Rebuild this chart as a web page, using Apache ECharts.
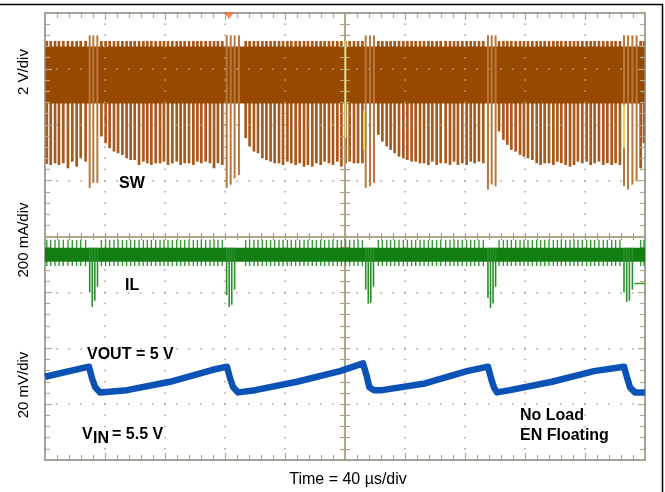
<!DOCTYPE html>
<html><head><meta charset="utf-8">
<script src="https://cdn.jsdelivr.net/npm/echarts@6/dist/echarts.min.js"></script>
<style>html,body{margin:0;padding:0;background:#fff}#c{width:665px;height:492px}</style>
</head><body><div id="c"></div>
<script>
// Time in µs (40 µs/div, 10 div), vertical in screen divisions (0 = centre line, ±4 div)

// SW (2 V/div): switching spikes (time, lowest point in div)
const swT = [1.2,3.8,6.7,9.3,12.2,15.3,18.2,21.1,23.8,27.1,
  37.6,40.4,43.1,46.0,48.7,51.6,54.4,57.1,59.8,62.7,65.6,68.2,70.9,73.8,76.7,79.3,82.0,84.9,87.8,90.4,93.1,96.0,98.9,101.6,104.2,107.1,110.0,112.7,115.3,118.2,
  133.8,136.4,139.3,142.0,144.9,147.6,150.4,153.1,156.0,158.7,161.6,164.2,167.1,169.8,172.7,175.3,178.2,180.9,183.8,186.4,189.3,192.0,194.9,197.6,200.4,203.1,206.0,208.7,211.6,
  222.2,224.9,227.8,230.4,233.1,236.0,238.9,241.6,244.4,247.1,250.0,252.7,255.6,258.2,261.1,263.8,267.1,270.0,272.7,275.3,278.2,281.1,283.8,286.4,289.3,292.2,
  302.7,305.6,308.2,310.9,313.8,316.7,319.3,322.0,324.9,327.8,330.4,333.1,336.0,338.9,341.6,344.2,347.1,350.0,352.7,355.3,358.2,361.1,363.8,366.4,369.3,372.2,374.9,377.8,380.4,383.3,
  397.1,399.3];
const swLow = [1.30,1.28,1.31,1.28,1.31,1.22,1.34,1.25,1.40,1.34,
  1.79,1.67,1.58,1.52,1.49,1.46,1.40,1.37,1.37,1.28,1.34,1.31,1.28,1.31,1.31,1.34,1.28,1.31,1.34,1.28,1.31,1.31,1.28,1.34,1.31,1.34,1.31,1.22,1.31,1.28,
  1.76,1.61,1.52,1.49,1.40,1.37,1.34,1.31,1.31,1.28,1.34,1.31,1.28,1.31,1.25,1.28,1.25,1.31,1.28,1.34,1.31,1.28,1.34,1.25,1.31,1.34,1.31,1.31,1.31,
  1.82,1.70,1.61,1.55,1.49,1.43,1.40,1.37,1.34,1.34,1.31,1.31,1.28,1.34,1.28,1.31,1.31,1.28,1.34,1.28,1.31,1.28,1.34,1.31,1.34,1.31,
  1.88,1.73,1.64,1.55,1.52,1.46,1.43,1.40,1.37,1.31,1.28,1.31,1.31,1.28,1.34,1.31,1.28,1.25,1.28,1.34,1.31,1.34,1.28,1.31,1.34,1.28,1.31,1.28,1.31,1.28,
  1.22,1.67];
const swEventT = [29.8,32.2,34.9, 121.1,123.8,126.4,129.3, 213.8,216.7,219.3, 295.3,297.8,300.4, 386.0,388.7,391.6,394.4];
const swEventLow = [0.87,0.96,0.96, 0.87,0.93,1.04,1.10, 0.87,0.90,0.96, 0.84,0.93,0.90, 0.90,0.84,0.93,0.99];
const swBand = [2.38, 3.40];
const swNoiseTop = 3.50;
const swEventTop = 3.60;

// IL (200 mA/div)
const ilCore = [-0.45, -0.20];
const ilNoise = [-0.53, -0.06];
const ilDipT = [29.8,31.5,33.2,35.0, 121.1,122.8,124.5,126.4, 213.8,215.5,217.2,219.0, 295.3,297.0,298.7,300.4, 386.0,387.8,389.6,391.6];
const ilDipLow = [-1.00,-1.26,-1.15,-0.90, -1.05,-1.26,-1.22,-0.95, -0.95,-1.20,-1.19,-0.90, -1.10,-1.28,-1.20,-0.90, -1.00,-1.17,-1.15,-0.95];
const ilMarker = [[393,-0.84],[400,-0.84]];

// VOUT (20 mV/div)
const vout = [[0,-2.51],[29.3,-2.33],[31.5,-2.55],[33.5,-2.70],[36.7,-2.79],[54.7,-2.75],[83.3,-2.60],[111.3,-2.39],[121.3,-2.33],
  [123.5,-2.55],[125.5,-2.70],[128.7,-2.79],[140,-2.75],[168,-2.60],[196.7,-2.41],[212,-2.27],
  [214.5,-2.50],[216.3,-2.70],[219.3,-2.75],[224.7,-2.75],[253.3,-2.63],[281.3,-2.41],[295.3,-2.33],
  [297.5,-2.55],[299.3,-2.70],[301.3,-2.79],[310,-2.75],[338,-2.60],[366,-2.41],[386,-2.33],
  [388,-2.52],[390,-2.70],[393.3,-2.79],[400,-2.79]];

// faint yellow channel fragments and trigger marker
const yellowSeg = [[200.3,1.76,3.50],[212.7,1.55,2.25],[386.0,1.58,2.36]];
const trigger = [[122.7,3.955]];

const FRAME='#86867f', TICK='#b3aa8b', DOT='#aaa288', CENTER='#aaa285';

function vLine(color, width){
  return function(params, api){
    const t = api.value(0);
    const a = api.coord([t, api.value(1)]);
    const b = api.coord([t, api.value(2)]);
    return {type:'line', shape:{x1:a[0],y1:a[1],x2:b[0],y2:b[1]}, style:{stroke:color,lineWidth:width}};
  };
}
function rectItem(color){
  return function(params, api){
    const a = api.coord([api.value(0), api.value(3)]);
    const b = api.coord([api.value(1), api.value(2)]);
    return {type:'rect', shape:{x:a[0],y:a[1],width:b[0]-a[0],height:b[1]-a[1]}, style:{fill:color}};
  };
}
function edgeX(pos, split){
  return {type:'value', gridIndex:0, position:pos, min:0, max:400, interval:40, z:3,
    axisLine:{show:true,onZero:false,lineStyle:{color:FRAME,width:1.5}},
    axisTick:{show:true,inside:true,length:7,lineStyle:{color:TICK,width:1.2}},
    minorTick:{show:true,splitNumber:5,length:5,lineStyle:{color:TICK,width:1.2}},
    axisLabel:{show:false},
    splitLine:{show:split,lineStyle:{color:DOT,width:1.5,type:[1.5,9.675],dashOffset:0.75}},
    minorSplitLine:{show:false}};
}
function centerX(inside){
  return {type:'value', gridIndex:0, position:'bottom', min:0, max:400, interval:40, z:3,
    axisLine:{show:true,onZero:true,onZeroAxisIndex:0,lineStyle:{color:CENTER,width:1.5}},
    axisTick:{show:true,inside:inside,length:3.5,lineStyle:{color:CENTER,width:1.2}},
    minorTick:{show:true,splitNumber:5,length:3.5,lineStyle:{color:CENTER,width:1.2}},
    axisLabel:{show:false}, splitLine:{show:false}};
}
function edgeY(pos, split){
  return {type:'value', gridIndex:0, position:pos, min:-4, max:4, interval:1, z:3,
    axisLine:{show:true,onZero:false,lineStyle:{color:FRAME,width:1.5}},
    axisTick:{show:true,inside:true,length:7,lineStyle:{color:TICK,width:1.2}},
    minorTick:{show:true,splitNumber:5,length:5,lineStyle:{color:TICK,width:1.2}},
    axisLabel:{show:false},
    splitLine:{show:split,lineStyle:{color:DOT,width:1.5,type:[1.5,10.5],dashOffset:0.75}},
    minorSplitLine:{show:false}};
}
function centerY(inside){
  return {type:'value', gridIndex:0, position:'left', min:-4, max:4, interval:1, z:3,
    axisLine:{show:true,onZero:true,onZeroAxisIndex:4,lineStyle:{color:CENTER,width:1.5}},
    axisTick:{show:true,inside:inside,length:5,lineStyle:{color:CENTER,width:1.2}},
    minorTick:{show:true,splitNumber:5,length:5,lineStyle:{color:CENTER,width:1.2}},
    axisLabel:{show:false}, splitLine:{show:false}};
}

const chart = echarts.init(document.getElementById('c'));
const bold = 'bold 16px "Liberation Sans", Arial, sans-serif';
const reg = '16px "Liberation Sans", Arial, sans-serif';
const axf = '15px "Liberation Sans", Arial, sans-serif';
chart.setOption({
  animation:false,
  backgroundColor:'#ffffff',
  grid:{left:45, top:13, width:600, height:447, containLabel:false},
  xAxis:[edgeX('bottom',true), edgeX('top',false), centerX(true), centerX(false),
    {type:'value', gridIndex:0, min:-200, max:200, show:false, axisLine:{onZero:false}}],
  yAxis:[edgeY('left',true), edgeY('right',false), centerY(true), centerY(false)],
  series:[
    {type:'custom', name:'SW spikes', z:1, renderItem:vLine('#a9591a',2.7),
      data:swT.map((t,i)=>[t, swLow[i], swNoiseTop])},
    {type:'custom', name:'SW', z:2, renderItem:rectItem('#984900'),
      data:[[0,400,swBand[0],swBand[1]]]},
    {type:'custom', name:'SW events', z:4, renderItem:vLine('#b8773c',2),
      data:swEventT.map((t,i)=>[t, swEventLow[i], swEventTop])},
    {type:'custom', name:'CH1', z:4, renderItem:vLine('#e6dc6a',1.8), data:yellowSeg},
    {type:'custom', name:'IL noise', z:5, renderItem:vLine('#3a9a3a',1.4),
      data:swT.map(t=>[t, ilNoise[0], ilNoise[1]])},
    {type:'custom', name:'IL', z:6, renderItem:rectItem('#127d12'),
      data:[[0,400,ilCore[0],ilCore[1]]]},
    {type:'custom', name:'IL dips', z:6, renderItem:vLine('#2a8f2a',1.6),
      data:ilDipT.map((t,i)=>[t, ilDipLow[i], ilCore[1]])},
    {type:'line', name:'IL marker', z:6, data:ilMarker, symbol:'none',
      lineStyle:{color:'#2a9a2a',width:1.5}},
    {type:'line', name:'VOUT', z:8, data:vout, symbol:'none',
      lineStyle:{color:'#0b52b6',width:6.5,join:'round'}},
    {type:'scatter', name:'trigger', z:9, data:trigger, symbol:'triangle', symbolRotate:180,
      symbolSize:[10,7], itemStyle:{color:'#ff6a30'}, clip:false}
  ],
  graphic:[
    {type:'line', shape:{x1:0,y1:4.5,x2:663,y2:4.5}, style:{stroke:'#000',lineWidth:1.5}},
    {type:'line', shape:{x1:662.5,y1:4,x2:662.5,y2:492}, style:{stroke:'#000',lineWidth:1.5}},
    {type:'text', x:24, y:72, rotation:Math.PI/2, style:{text:'2 V/div', font:axf, fill:'#000', align:'center', verticalAlign:'middle'}},
    {type:'text', x:24, y:240, rotation:Math.PI/2, style:{text:'200 mA/div', font:axf, fill:'#000', align:'center', verticalAlign:'middle'}},
    {type:'text', x:24, y:385, rotation:Math.PI/2, style:{text:'20 mV/div', font:axf, fill:'#000', align:'center', verticalAlign:'middle'}},
    {type:'text', x:119, y:184, z:20, style:{text:'SW', font:bold, fill:'#000', verticalAlign:'middle'}},
    {type:'text', x:125, y:286, z:20, style:{text:'IL', font:bold, fill:'#000', verticalAlign:'middle'}},
    {type:'text', x:87, y:355, z:20, style:{text:'VOUT = 5 V', font:bold, fill:'#000', verticalAlign:'middle'}},
    {type:'text', x:82, y:435, z:20, style:{text:'V', font:bold, fill:'#000', verticalAlign:'middle'}},
    {type:'text', x:93, y:439, z:20, style:{text:'IN', font:bold, fill:'#000', verticalAlign:'middle'}},
    {type:'text', x:112, y:435, z:20, style:{text:'= 5.5 V', font:bold, fill:'#000', verticalAlign:'middle'}},
    {type:'text', x:520, y:416, z:20, style:{text:'No Load', font:bold, fill:'#000', verticalAlign:'middle'}},
    {type:'text', x:520, y:436, z:20, style:{text:'EN Floating', font:bold, fill:'#000', verticalAlign:'middle'}},
    {type:'text', x:348, y:480, z:20, style:{text:'Time = 40 µs/div', font:reg, fill:'#000', align:'center', verticalAlign:'middle'}}
  ]
});
</script></body></html>
